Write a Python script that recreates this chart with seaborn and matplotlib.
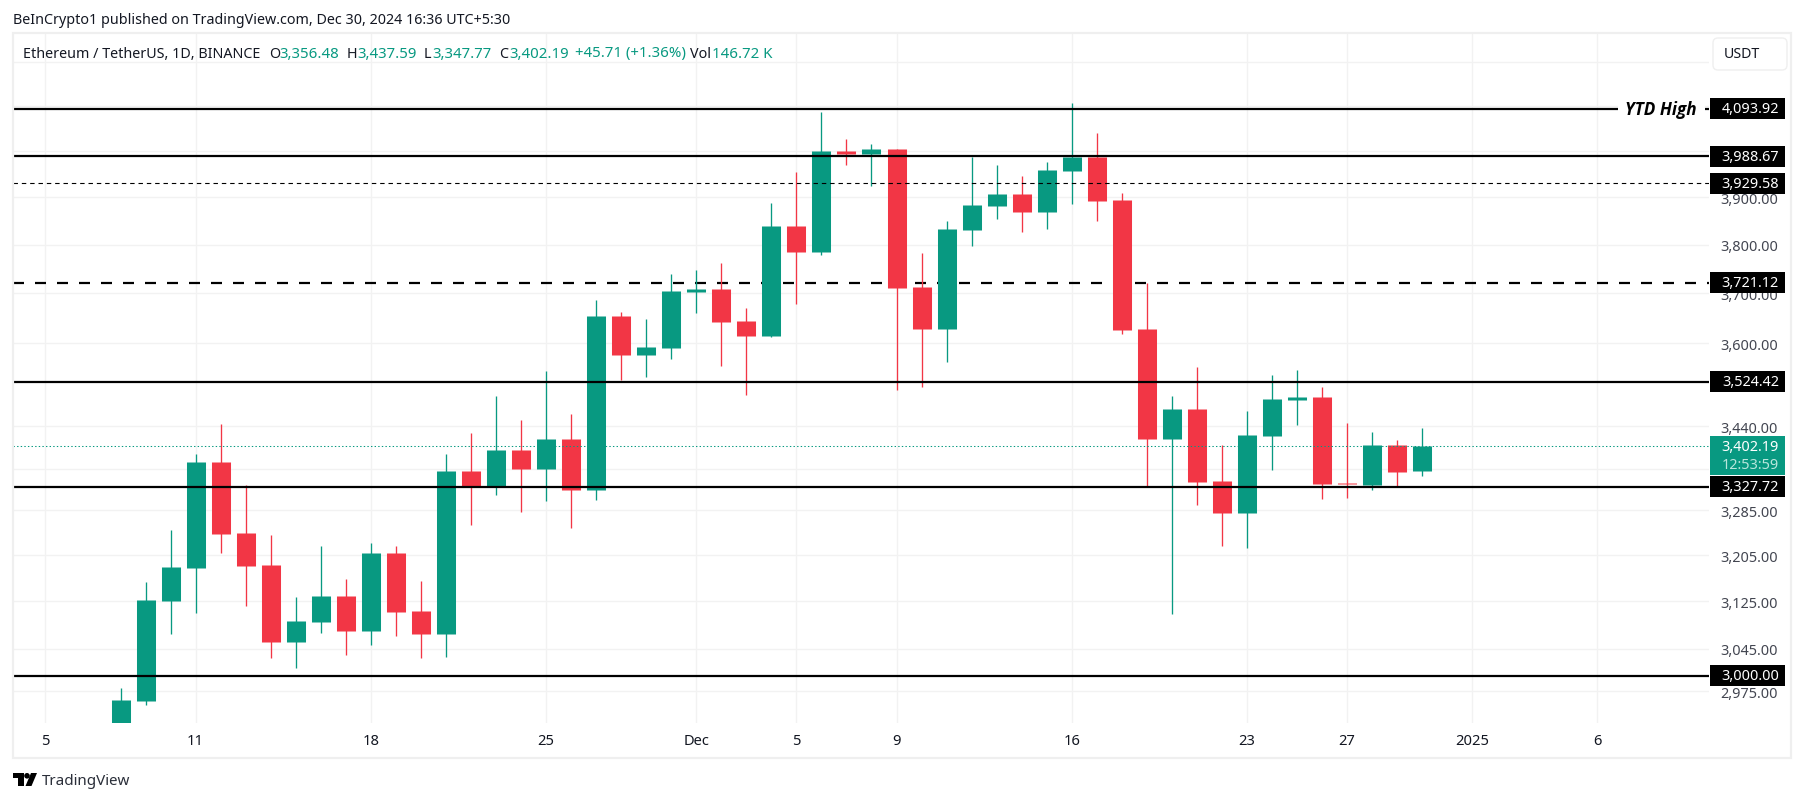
import pandas as pd
import seaborn as sns
import matplotlib.pyplot as plt
from matplotlib.patches import Rectangle, Polygon, Circle, FancyBboxPatch
from matplotlib.transforms import Affine2D

# daily candles
dates = pd.date_range("2024-11-08", "2024-12-30", freq="D")
opens = [2895, 2959, 3125.5, 3182.8, 3373.5, 3244, 3188, 3057, 3090, 3134, 3074, 3209, 3108, 3069, 3357, 3329.5, 3395, 3360.5, 3416.5, 3322,
         3654.6, 3577, 3591, 3702.7, 3709, 3644.7, 3614.6, 3838, 3784, 3999, 3994.5, 4003.5, 3713, 3628.6, 3830, 3881, 3907, 3868.5, 3957, 3988,
         3894, 3628.6, 3416.5, 3472.7, 3338.6, 3279.7, 3422, 3490, 3495.6, 3335, 3331, 3404.6, 3356.48]
closes = [2961, 3127, 3184.5, 3373.5, 3242, 3186.5, 3057, 3091.5, 3134, 3074, 3209, 3106.5, 3069, 3357, 3329.5, 3395, 3360.5, 3416.5, 3322, 3654.6,
          3577, 3592.7, 3704.6, 3709, 3642.7, 3614.6, 3838, 3784, 3999, 3994.5, 4003.5, 3711, 3628.6, 3832, 3883.5, 3907, 3868.5, 3959.5, 3988, 3892,
          3626.7, 3416.5, 3472.7, 3336.8, 3279.7, 3423.8, 3491.7, 3495.6, 3333, 3333, 3404.6, 3355, 3402.19]
highs = [2980, 3158.4, 3249.4, 3388, 3444, 3331, 3240.5, 3132, 3221.5, 3163, 3227, 3221.5, 3160, 3388, 3428, 3497.5, 3452, 3545.5, 3463, 3686.5,
         3662.5, 3648, 3739.5, 3748, 3761, 3670.5, 3887.6, 3955, 4086.5, 4025.5, 4016, 4005.5, 3782, 3849, 3988, 3968.5, 3945, 3975, 4107, 4040,
         3909, 3720.5, 3497.5, 3553, 3404.6, 3469, 3538, 3548, 3515, 3446, 3430, 3414, 3437.59]
lows = [2880, 2953, 3069, 3105, 3209, 3117, 3029, 3013, 3072, 3035, 3050.5, 3066, 3029, 3032, 3258, 3313, 3281.5, 3301, 3253, 3303,
        3528, 3534, 3569, 3661, 3555, 3499, 3612, 3678.5, 3777.7, 3969, 3924, 3509, 3515, 3563, 3796.5, 3853, 3825.7, 3832, 3885.6, 3849.5,
        3618.6, 3329.5, 3103.5, 3294, 3221, 3217.7, 3358.6, 3442.5, 3304.6, 3306.4, 3322, 3327.7, 3347.77]

# horizontal levels
solid_levels = [4093.92, 3988.67, 3524.42, 3327.72, 3000.00]
thin_dash_level = 3929.58
thick_dash_level = 3721.12
last_price = 3402.19

y_ticks = [2975, 3045, 3125, 3205, 3285, 3360, 3440, 3600, 3700, 3800, 3900, 4000, 4100, 4200]
# these three sit behind the tags and the button, only their grid lines show
y_hidden = [3360, 4100, 4200]
x_ticks = ["2024-11-05", "2024-11-11", "2024-11-18", "2024-11-25", "2024-12-01", "2024-12-05", "2024-12-09",
           "2024-12-16", "2024-12-23", "2024-12-27", "2025-01-01", "2025-01-06"]
x_labels = ["5", "11", "18", "25", "Dec", "5", "9", "16", "23", "27", "2025", "6"]

GREEN = "#089981"
RED = "#F23645"
GRID = "#f2f2f2"
FRAME = "#efefef"
INK = "#131722"

sns.set_theme(style="white", rc={"lines.scale_dashes": False})
plt.rcParams["font.family"] = ["Noto Sans", "DejaVu Sans"]

# long tables for the wicks and the bodies, each candle is a 2 point line
side = ["up" if c >= o else "down" for o, c in zip(opens, closes)]
candles = pd.DataFrame({"date": dates, "candle": range(len(dates)), "side": side,
                        "open": opens, "close": closes, "high": highs, "low": lows})
wicks = candles.melt(id_vars=["date", "candle", "side"], value_vars=["low", "high"], value_name="price")
bodies = candles.melt(id_vars=["date", "candle", "side"], value_vars=["open", "close"], value_name="price")
palette = {"up": GREEN, "down": RED}

W, H = 1804, 803
fig = plt.figure(figsize=(W / 100, H / 100), dpi=100, facecolor="white")
ax = fig.add_axes([13 / W, 1 - 724 / H, (1709 - 13) / W, (724 - 35) / H])
ax.set_yscale("log")

# thick dashed level goes under the candles, the others over them
ax.axhline(thick_dash_level, color="black", lw=1.6, ls=(0, (7.92, 7.92)), zorder=1.8)
sns.lineplot(data=wicks, x="date", y="price", units="candle", hue="side", palette=palette, estimator=None,
             sort=False, legend=False, lw=0.95, solid_capstyle="butt", zorder=2, ax=ax)
sns.lineplot(data=bodies, x="date", y="price", units="candle", hue="side", palette=palette, estimator=None,
             sort=False, legend=False, lw=13.7, solid_capstyle="butt", zorder=2.1, ax=ax)
ax.axhline(last_price, color=GREEN, lw=0.75, ls=(0, (1, 1.6)), zorder=2.2)
ax.axhline(thin_dash_level, color="black", lw=0.8, ls=(0, (3.2, 2.8)), zorder=3)
for level in solid_levels:
    ax.axhline(level, color="black", lw=1.6, zorder=3)

ax.set_ylim(2923.6, 4265.0)
start = pd.Timestamp("2024-11-05")
ax.set_xlim(start - pd.Timedelta(days=1.298), start + pd.Timedelta(days=66.46))

ax.yaxis.tick_right()
ax.set_yticks(y_ticks)
ax.set_yticklabels(["" if v in y_hidden else f"{v:,.2f}" for v in y_ticks])
ax.minorticks_off()
ax.set_xticks(pd.to_datetime(x_ticks))
ax.set_xticklabels(x_labels)
ax.tick_params(axis="y", length=0, pad=8.3, labelsize=10.4, labelcolor="#434651")
ax.tick_params(axis="x", length=0, pad=7.3, labelsize=10.6, labelcolor=INK)
ax.get_xticklabels()[x_labels.index("2025")].set_fontweight("bold")
ax.set_xlabel("")
ax.set_ylabel("")
ax.grid(True, color=GRID, lw=1)
ax.set_axisbelow(True)
sns.despine(ax=ax, left=True, bottom=True, top=True, right=True)

# everything outside the axes is placed in image pixels, y going down
px = Affine2D().scale(1 / W, -1 / H).translate(0, 1) + fig.transFigure


def y_px(value):
    return H - ax.transData.transform((0, value))[1]


def label(x, y, text, color=INK, size=10.3, **kw):
    kw.setdefault("va", "center")
    fig.text(x, y, text, color=color, fontsize=size, transform=px, **kw)


fig.add_artist(Rectangle((12.5, 33.5), 1778.5, 725.5, fill=False, ec=FRAME, lw=1.6, transform=px))

# price tags
tag_values = [4093.92, 3988.67, 3929.58, 3721.12, 3524.42, 3327.72, 3000.00]
for v in tag_values:
    y = y_px(v)
    fig.add_artist(Rectangle((1710, y - 10.5), 75, 21, fc="black", ec="none", transform=px))
    label(1779, y, f"{v:,.2f}", color="white", size=10.4, ha="right")

y = y_px(last_price)
fig.add_artist(Rectangle((1710, y - 10), 75, 39, fc=GREEN, ec="none", transform=px))
label(1779, y, f"{last_price:,.2f}", color="white", size=10.4, ha="right")
label(1779, y + 18, "12:53:59", color="#b9e6dc", size=10.4, ha="right")

# USDT button
fig.add_artist(FancyBboxPatch((1713, 39), 74, 32, boxstyle="round,pad=0,rounding_size=5", fc="white",
                              ec=FRAME, lw=1, transform=px))
label(1741.7, 55, "USDT", size=10.2, ha="center")

# YTD High sits on its line
fig.text(1661, y_px(4093.92), "YTD High", color="black", fontsize=12.3, fontweight="bold", fontstyle="italic",
         family=["Open Sans", "DejaVu Sans"], ha="center", va="center", transform=px,
         bbox=dict(fc="white", ec="none", pad=5.5))

# header and status line
label(13, 20, "BeInCrypto1 published on TradingView.com, Dec 30, 2024 16:36 UTC+5:30")
label(23, 54, "Ethereum / TetherUS, 1D, BINANCE")
for x, key, x2, val in [(269, "O", 279.6, "3,356.48"), (346.7, "H", 357, "3,437.59"),
                        (423.6, "L", 432, "3,347.77"), (499, "C", 509, "3,402.19")]:
    label(x, 54, key)
    label(x2, 54, val, color=GREEN, size=10.8)
label(574.6, 54, "+45.71 (+1.36%)", color=GREEN, size=10.8)
label(690, 54, "Vol")
label(712, 54, "146.72 K", color=GREEN, size=10.8)

# TradingView mark and name
fig.add_artist(Polygon([(12.6, 774), (23.7, 774), (23.7, 787), (18, 787), (18, 779), (12.6, 779)], fc="black", ec="none", transform=px))
fig.add_artist(Circle((27, 776.8), 2.8, fc="black", ec="none", transform=px))
fig.add_artist(Polygon([(31, 774), (37, 774), (31.5, 787), (25.5, 787)], fc="black", ec="none", transform=px))
label(42, 781.5, "TradingView", color="#2a2e39", size=10.9)

fig.savefig("out.png", dpi=100)
